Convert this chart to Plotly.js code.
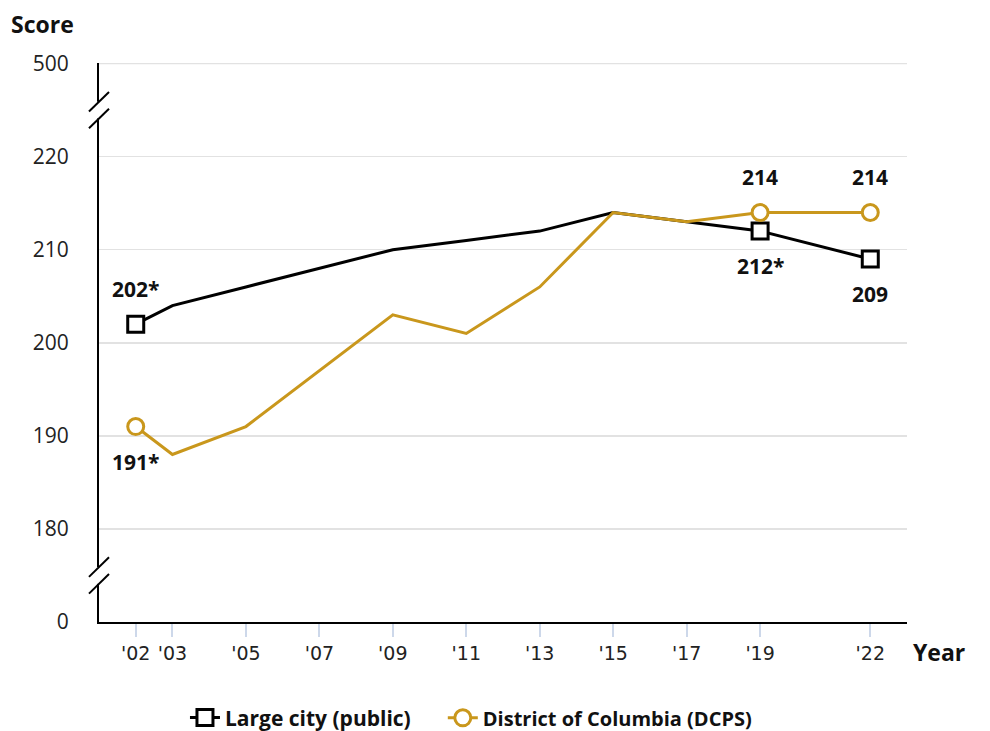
<!DOCTYPE html>
<html>
<head>
<meta charset="utf-8">
<script src="https://cdn.plot.ly/plotly-3.0.1.min.js"></script>
<style>html,body{margin:0;padding:0;background:#fff;}#chart{width:990px;height:731px;}</style>
</head>
<body>
<div id="chart"></div>
<script>
// Data
const years = [2002, 2003, 2005, 2007, 2009, 2011, 2013, 2015, 2017, 2019, 2022];
const yearLabels = ["'02", "'03", "'05", "'07", "'09", "'11", "'13", "'15", "'17", "'19", "'22"];
const largeCity = [202, 204, 206, 208, 210, 211, 212, 214, 213, 212, 209];
const dcps = [191, 188, 191, 197, 203, 201, 206, 214, 213, 214, 214];
const largeCityLabels = ["202*", "", "", "", "", "", "", "", "", "212*", "209"];
const dcpsLabels = ["191*", "", "", "", "", "", "", "", "", "214", "214"];
const largeCityLabelSide = [1, 0, 0, 0, 0, 0, 0, 0, 0, -1, -1];
const dcpsLabelSide = [-1, 0, 0, 0, 0, 0, 0, 0, 0, 1, 1];
const markedPoints = [1, 0, 0, 0, 0, 0, 0, 0, 0, 1, 1];
// broken axis: plotted positions and their labels
const yTickVals = [170, 180, 190, 200, 210, 220, 230];
const yTickText = ["0", "180", "190", "200", "210", "220", "500"];
const seriesNames = ["Large city (public)", "District of Columbia (DCPS)"];

const black = "#000000";
const gold = "#C9971C";
const clear = "rgba(0,0,0,0)";

const traces = [
  {
    x: years, y: largeCity, name: seriesNames[0], type: "scatter", mode: "lines+markers",
    legend: "legend",
    line: {color: black, width: 3},
    marker: {symbol: "square", size: 16, opacity: 1,
      color: markedPoints.map(m => m ? "#fff" : clear),
      line: {color: markedPoints.map(m => m ? black : clear), width: 3}},
    hoverinfo: "x+y"
  },
  {
    x: years, y: dcps, name: seriesNames[1], type: "scatter", mode: "lines+markers",
    legend: "legend2",
    line: {color: gold, width: 3},
    marker: {symbol: "circle", size: 16, opacity: 1,
      color: markedPoints.map(m => m ? "#fff" : clear),
      line: {color: markedPoints.map(m => m ? gold : clear), width: 3}},
    hoverinfo: "x+y"
  }
];

const annotations = [];
function addLabels(vals, labels, sides) {
  vals.forEach((v, i) => {
    if (!labels[i]) return;
    annotations.push({
      x: years[i], y: v, xref: "x", yref: "y", text: labels[i], showarrow: false,
      yshift: 35 * sides[i],
      font: {family: "Open Sans", size: 21, color: "#111", weight: 700}
    });
  });
}
addLabels(largeCity, largeCityLabels, largeCityLabelSide);
addLabels(dcps, dcpsLabels, dcpsLabelSide);

annotations.push({
  xref: "paper", yref: "paper", x: -0.112, y: 1.07, xanchor: "left", yanchor: "middle",
  text: "Score", showarrow: false, font: {family: "Open Sans", size: 23, color: "#111", weight: 700}
});
annotations.push({
  xref: "paper", yref: "paper", x: 1.005, y: -0.053, xanchor: "left", yanchor: "middle",
  text: "Year", showarrow: false, font: {family: "Open Sans", size: 23, color: "#111", weight: 700}
});

// top gridline (500) and axis break decorations
const shapes = [{type: "line", xref: "paper", yref: "y", x0: 0, x1: 1, y0: yTickVals[yTickVals.length - 1], y1: yTickVals[yTickVals.length - 1],
  line: {color: "#e2e2e2", width: 1.5}, layer: "below"}];
[225, 175].forEach(c => {
  shapes.push({type: "rect", xref: "paper", yref: "y", x0: -0.004, x1: 0.004, y0: c - 0.9, y1: c + 0.9,
    fillcolor: "#fff", line: {width: 0}, layer: "above"});
  [c + 0.9, c - 0.9].forEach(m => {
    shapes.push({type: "line", xref: "paper", yref: "y", x0: -0.0124, x1: 0.0124, y0: m - 1.05, y1: m + 1.05,
      line: {color: black, width: 2}, layer: "above"});
  });
});

const layout = {
  width: 990, height: 731,
  margin: {l: 99, r: 83, t: 63, b: 109},
  paper_bgcolor: "#fff", plot_bgcolor: "#fff",
  font: {family: "Open Sans", color: "#222"},
  showlegend: true,
  legend: {
    orientation: "h", x: 0.1064, xanchor: "left", yref: "container", y: 0.018, yanchor: "middle",
    font: {family: "Open Sans", size: 21, color: "#111", weight: 700}
  },
  legend2: {
    orientation: "h", x: 0.4255, xanchor: "left", yref: "container", y: 0.018, yanchor: "middle",
    font: {family: "Open Sans", size: 20, color: "#111", weight: 700}
  },
  xaxis: {
    range: [2001, 2023], tickmode: "array", tickvals: years, ticktext: yearLabels,
    showgrid: false, zeroline: false, showline: true, linecolor: black, linewidth: 2,
    ticks: "outside", ticklen: 13, tickwidth: 2, tickcolor: "#cdd8ea",
    tickfont: {family: "DejaVu Sans", size: 19, color: "#222"}
  },
  yaxis: {
    range: [170, 230.06], tickmode: "array", tickvals: yTickVals, ticktext: yTickText,
    showgrid: true, gridcolor: "#e2e2e2", gridwidth: 1.5, zeroline: false,
    showline: true, linecolor: black, linewidth: 2, ticks: "", ticklabelstandoff: 24,
    tickfont: {family: "Open Sans", size: 21, color: "#222"}
  },
  annotations: annotations,
  shapes: shapes
};

Plotly.newPlot("chart", traces, layout, {displayModeBar: false, staticPlot: true});
</script>
</body>
</html>
